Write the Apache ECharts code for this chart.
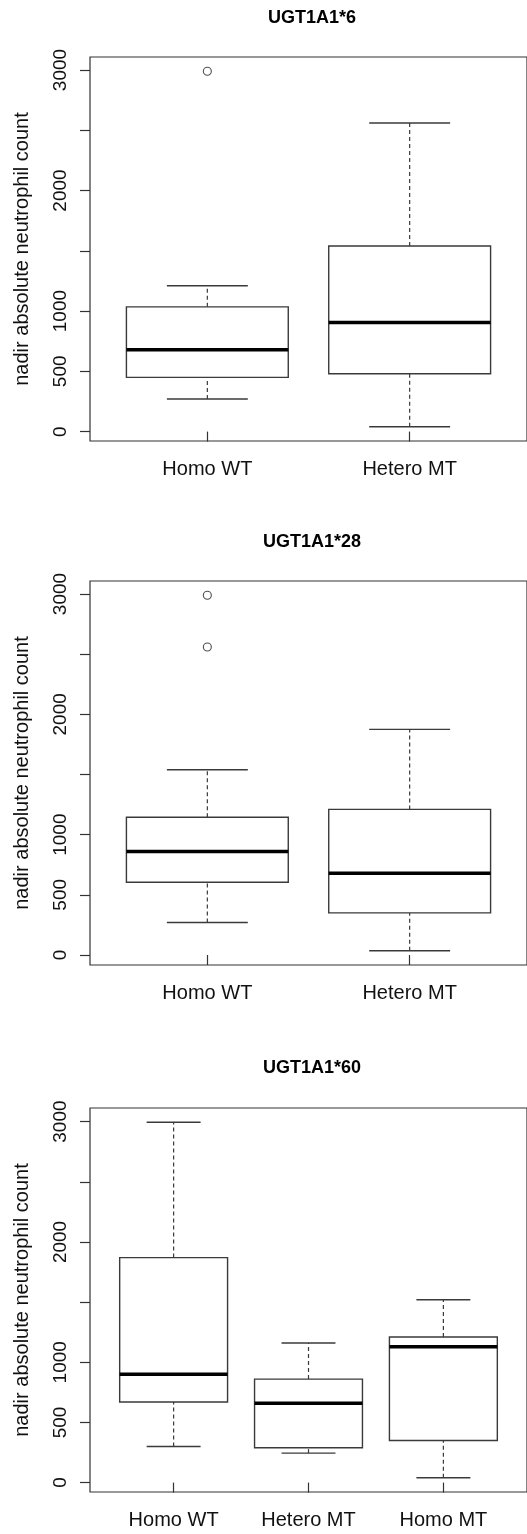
<!DOCTYPE html>
<html>
<head>
<meta charset="utf-8">
<script src="https://cdn.jsdelivr.net/npm/echarts@6/dist/echarts.min.js"></script>
<style>
html, body { margin: 0; padding: 0; background: #fff; }
#chart { width: 527px; height: 1534px; }
</style>
</head>
<body>
<div id="chart"></div>
<script>
// panel titles
var titles = ['UGT1A1*6', 'UGT1A1*28', 'UGT1A1*60'];
var yName = 'nadir absolute neutrophil count';

// each box: [lower whisker, Q1, median, Q3, upper whisker]
// outliers: [group number (1-based), value]
var groups6 = ['Homo WT', 'Hetero MT'];
var box6 = [[270, 450, 680, 1035, 1210], [40, 480, 905, 1540, 2560]];
var out6 = [[1, 2990]];

var groups28 = ['Homo WT', 'Hetero MT'];
var box28 = [[270, 605, 860, 1145, 1540], [35, 350, 680, 1210, 1875]];
var out28 = [[1, 2560], [1, 2990]];

var groups60 = ['Homo WT', 'Hetero MT', 'Homo MT'];
var box60 = [[300, 670, 900, 1870, 2995], [245, 290, 660, 860, 1160], [40, 350, 1130, 1210, 1520]];
var out60 = [];

var yTicks = [0, 500, 1000, 1500, 2000, 2500, 3000];
var yLabels = [0, 500, 1000, 2000, 3000];

var gridTops = [57, 581, 1108];
var titleYs = [18, 542, 1068];
var font = '"Liberation Sans", Arial, Helvetica, sans-serif';

var myChart = echarts.init(document.getElementById('chart'));

function yRange(boxes, outs) {
    var lo = Infinity, hi = -Infinity;
    boxes.forEach(function (b) { lo = Math.min(lo, b[0]); hi = Math.max(hi, b[4]); });
    outs.forEach(function (o) { lo = Math.min(lo, o[1]); hi = Math.max(hi, o[1]); });
    var pad = (hi - lo) * 0.04;
    return [lo - pad, hi + pad];
}

function renderBox(params, api) {
    var x = api.value(0);
    var low = api.coord([x, api.value(1)]);
    var q1 = api.coord([x, api.value(2)]);
    var med = api.coord([x, api.value(3)]);
    var q3 = api.coord([x, api.value(4)]);
    var high = api.coord([x, api.value(5)]);
    var half = api.size([0.4, 0])[0];
    var cap = api.size([0.2, 0])[0];
    var cx = low[0];
    var edge = { stroke: '#3a3a3a', lineWidth: 1.4, fill: null };
    var dash = { stroke: '#3a3a3a', lineWidth: 1.2, lineDash: [4, 3] };
    return {
        type: 'group',
        children: [
            { type: 'line', shape: { x1: cx, y1: low[1], x2: cx, y2: q1[1] }, style: dash },
            { type: 'line', shape: { x1: cx, y1: q3[1], x2: cx, y2: high[1] }, style: dash },
            { type: 'line', shape: { x1: cx - cap, y1: low[1], x2: cx + cap, y2: low[1] }, style: edge },
            { type: 'line', shape: { x1: cx - cap, y1: high[1], x2: cx + cap, y2: high[1] }, style: edge },
            { type: 'rect', shape: { x: cx - half, y: q3[1], width: half * 2, height: q1[1] - q3[1] }, style: edge },
            { type: 'line', shape: { x1: cx - half, y1: med[1], x2: cx + half, y2: med[1] }, style: { stroke: '#000', lineWidth: 3.5 } }
        ]
    };
}

var panels = [
    { groups: groups6, boxes: box6, outs: out6 },
    { groups: groups28, boxes: box28, outs: out28 },
    { groups: groups60, boxes: box60, outs: out60 }
];

var grid = [], xAxis = [], yAxis = [], series = [], graphic = [];

panels.forEach(function (p, i) {
    var n = p.groups.length;
    var yr = yRange(p.boxes, p.outs);
    var ticksX = p.groups.map(function (g, k) { return k + 1; });

    grid.push({
        left: 90, top: gridTops[i], width: 443, height: 384,
        show: true, borderColor: '#333', borderWidth: 1.2, backgroundColor: 'transparent'
    });

    xAxis.push({
        type: 'value', gridIndex: i,
        min: 0.5 - 0.04 * n, max: n + 0.5 + 0.04 * n,
        axisLine: { show: false },
        splitLine: { show: false },
        axisTick: { show: true, length: 10, customValues: ticksX, lineStyle: { color: '#333', width: 1.2 } },
        axisLabel: {
            customValues: ticksX, margin: 18, color: '#111', fontSize: 20, fontFamily: font,
            formatter: function (v) { return p.groups[Math.round(v) - 1]; }
        }
    });

    yAxis.push({
        type: 'value', gridIndex: i,
        min: yr[0], max: yr[1],
        name: yName, nameLocation: 'middle', nameGap: 58, nameRotate: 90,
        nameTextStyle: { color: '#111', fontSize: 20, fontFamily: font },
        axisLine: { show: false },
        splitLine: { show: false },
        axisTick: { show: true, length: 10, customValues: yTicks, lineStyle: { color: '#333', width: 1.2 } },
        axisLabel: {
            customValues: yLabels, rotate: 90, margin: 20, color: '#111', fontSize: 19, fontFamily: font,
            formatter: function (v) { return String(Math.round(v)); }
        }
    });

    series.push({
        type: 'custom', xAxisIndex: i, yAxisIndex: i,
        renderItem: renderBox,
        data: p.boxes.map(function (b, k) { return [k + 1].concat(b); }),
        silent: true
    });

    series.push({
        type: 'scatter', xAxisIndex: i, yAxisIndex: i,
        symbol: 'circle', symbolSize: 8,
        itemStyle: { color: '#fff', borderColor: '#222', borderWidth: 1.1 },
        data: p.outs,
        silent: true
    });

    graphic.push({
        type: 'text', x: 312, y: titleYs[i],
        style: {
            text: titles[i], align: 'center', verticalAlign: 'middle',
            fontSize: 18, fontWeight: 'bold', fontFamily: font, fill: '#000'
        }
    });
});

myChart.setOption({
    animation: false,
    backgroundColor: '#fff',
    grid: grid,
    xAxis: xAxis,
    yAxis: yAxis,
    series: series,
    graphic: graphic
});
</script>
</body>
</html>
